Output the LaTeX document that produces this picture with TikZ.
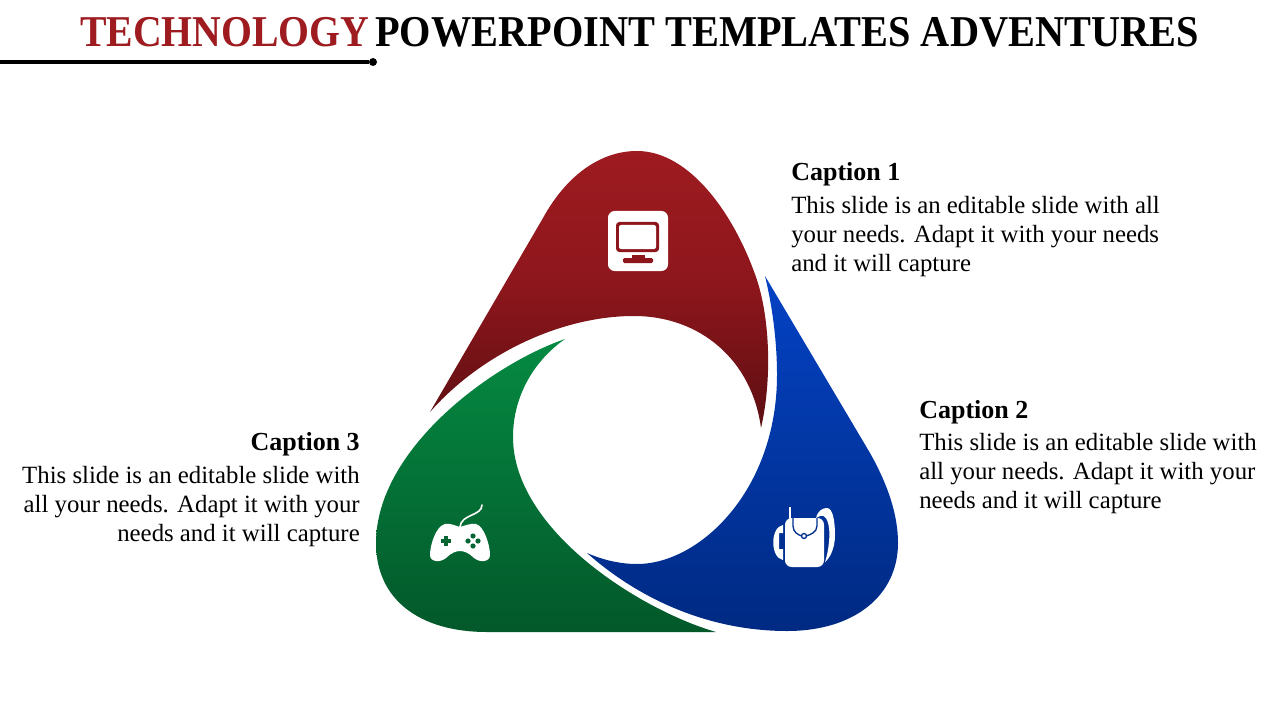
\documentclass[tikz,border=0pt]{standalone}
\usepackage{fontspec}
\setmainfont{Liberation Serif}
\newfontfamily\titlefont{Liberation Serif}[FakeStretch=0.916]
\newfontfamily\titleredfont{Liberation Serif}[FakeStretch=0.903]
\usetikzlibrary{positioning}

\definecolor{redTop}{HTML}{9E1B20}
\definecolor{redMid}{HTML}{8C161C}
\definecolor{redLow}{HTML}{5C0F12}
\definecolor{blueTop}{HTML}{0442C4}
\definecolor{blueLow}{HTML}{002A82}
\definecolor{blueLine}{HTML}{00308F}
\definecolor{greenTop}{HTML}{058A42}
\definecolor{greenLow}{HTML}{03582A}
\definecolor{greenPad}{HTML}{056633}

\tikzset{
	titletext/.style={inner sep=0pt, anchor=base west, font=\titlefont\fontsize{33}{36}\selectfont\bfseries},
	titlered/.style={inner sep=0pt, anchor=base west, text=redTop, font=\titleredfont\fontsize{33}{36}\selectfont\bfseries},
	headtext/.style={inner sep=0pt, font=\fontsize{19.5}{24}\selectfont\bfseries},
	bodytext/.style={inner sep=0pt, font=\fontsize{18.6}{21.75}\selectfont},
	ruledot/.style={circle, fill=black, inner sep=0pt, minimum size=6pt}
}

\begin{document}
\begin{tikzpicture}[x=0.75pt, y=-0.75pt]
	\useasboundingbox (0,0) rectangle (1280,720);

	% title
	\node [titlered] (titleA) at (80,47) {TECHNOLOGY};
	\node [titletext] (titleB) at (375,47) {POWERPOINT TEMPLATES ADVENTURES};
	\coordinate (ruleStart) at (0,62);
	\node [ruledot] (ruleEnd) at (373,62) {};
	\draw [line width=2.4pt] (ruleStart) -- (ruleEnd);

	% red petal
	\shade [top color=redTop, bottom color=redLow, middle color=redMid]
		(430,412) -- (543,218)
		.. controls (566,176) and (600,151) .. (637,151)
		.. controls (690,151) and (735,215) .. (757,280)
		.. controls (770,320) and (772,380) .. (761,428)
		.. controls (752,360) and (700,316) .. (634,316)
		.. controls (560,316) and (480,355) .. (430,412) -- cycle;

	% blue petal
	\shade [top color=blueTop, bottom color=blueLow]
		(765,276) -- (870,453)
		.. controls (888,485) and (898,515) .. (898,543)
		.. controls (898,595) and (855,631) .. (787,631)
		.. controls (710,631) and (640,600) .. (587,553)
		.. controls (603,560) and (620,564) .. (637,564)
		.. controls (700,564) and (777,490) .. (777,375)
		.. controls (777,340) and (772,305) .. (765,276) -- cycle;

	% green petal
	\shade [top color=greenTop, bottom color=greenLow]
		(565,339)
		.. controls (490,365) and (376,450) .. (376,543)
		.. controls (376,600) and (420,632) .. (487,632)
		-- (716,632)
		.. controls (640,610) and (513,530) .. (513,437)
		.. controls (513,395) and (535,360) .. (565,339) -- cycle;

	% monitor
	\fill [white, rounded corners=5pt] (608,211) rectangle (668,271);
	\fill [redMid, rounded corners=2.5pt] (616,222) rectangle (659,252);
	\fill [white, rounded corners=1.5pt] (619,225) rectangle (656,249);
	\fill [redMid] (632,255) rectangle (645,260);
	\fill [redMid, rounded corners=1pt] (623,258) rectangle (653,263);

	% phone
	\fill [white, rounded corners=5pt] (785,518) rectangle (824,567);
	\fill [white] (788.5,507) rectangle (790.5,522);
	\fill [white] (783,525) .. controls (770,527) and (770,558) .. (783,560)
		-- (783,549) -- (779,549) -- (779,533) -- (783,533) -- cycle;
	\fill [white] (816,518) .. controls (818,510) and (823,508) .. (827,508)
		.. controls (833,508) and (835,522) .. (835,535)
		.. controls (835,548) and (830,558) .. (825,562)
		.. controls (829,550) and (830,535) .. (829,528)
		.. controls (828,520) and (825,514) .. (820,516) -- cycle;
	\draw [blueLine, line width=1pt] (793,518) -- (793,526)
		.. controls (793,532) and (798,535) .. (802,536);
	\draw [blueLine, line width=1pt] (817,518) -- (817,526)
		.. controls (817,532) and (810,535) .. (806,536);
	\draw [blueLine, fill=white, line width=1pt] (804,536) circle (2.5);

	% gamepad
	\fill [white] (445,524) .. controls (451,523) and (456,526) .. (460,527)
		.. controls (464,526) and (470,523) .. (476,524)
		.. controls (484,526) and (490,545) .. (490,555)
		.. controls (490,562) and (480,563) .. (474,558)
		.. controls (469,553) and (464,551) .. (460,551)
		.. controls (456,551) and (451,553) .. (446,558)
		.. controls (440,563) and (430,562) .. (430,555)
		.. controls (430,545) and (436,526) .. (445,524) -- cycle;
	\draw [white, line width=1.2pt, line cap=round] (460,527)
		.. controls (461,514) and (482,516) .. (482,505);
	\fill [greenPad] (444,536) rectangle (448,546);
	\fill [greenPad] (441,539) rectangle (451,543);
	\foreach \px/\py in {473/536, 468/541, 478/541, 473/546}
		\fill [greenPad] (\px,\py) circle (2.6);

	% captions
	\node [bodytext, align=left, anchor=north west] (bodyA) at (791,196) {This slide is an editable slide with all\\your needs. Adapt it with your needs\\and it will capture};
	\node [headtext, anchor=base west] (headA) at (791,181) {Caption 1};
	\node [bodytext, align=left, anchor=north west] (bodyB) at (919,433) {This slide is an editable slide with\\all your needs. Adapt it with your\\needs and it will capture};
	\node [headtext, anchor=base west] (headB) at (919,418) {Caption 2};
	\node [bodytext, align=right, anchor=north east] (bodyC) at (360,466) {This slide is an editable slide with\\all your needs. Adapt it with your\\needs and it will capture};
	\node [headtext, anchor=base east] (headC) at (360,450) {Caption 3};
\end{tikzpicture}
\end{document}
